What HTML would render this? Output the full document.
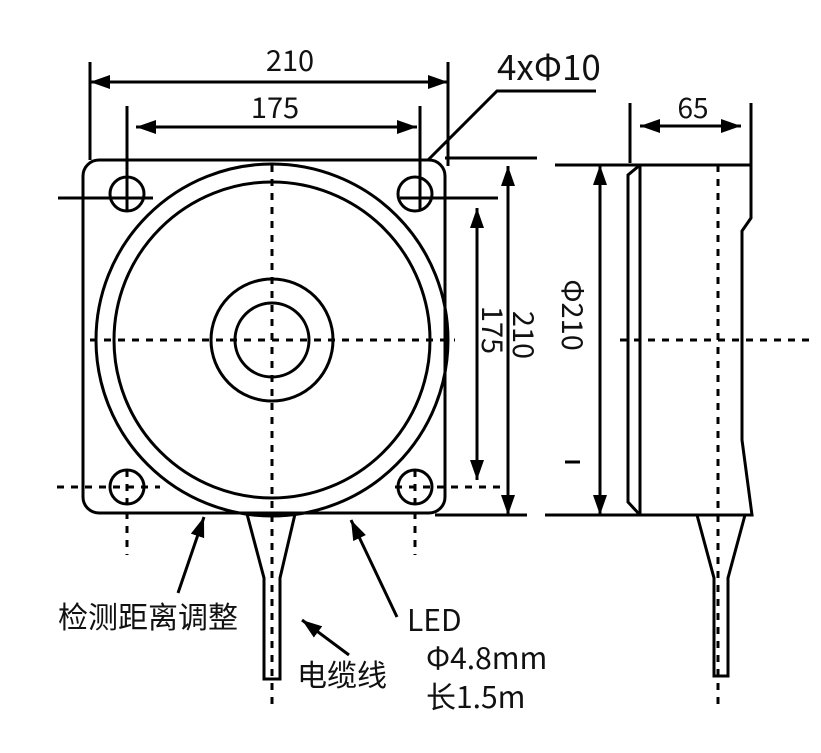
<!DOCTYPE html>
<html><head><meta charset="utf-8"><style>
html,body{margin:0;padding:0;background:#fff;}
svg{display:block;}
text{font-family:"Noto Sans CJK SC","Liberation Sans",sans-serif;fill:#111;}
</style></head><body>
<svg width="821" height="753" viewBox="0 0 821 753" xmlns="http://www.w3.org/2000/svg">
<defs>
<marker id="b" viewBox="0 0 10 10" refX="10" refY="5" markerWidth="20" markerHeight="14" orient="auto-start-reverse" markerUnits="userSpaceOnUse" preserveAspectRatio="none"><path d="M0,0 L10,5 L0,10 z" fill="#000"/></marker>
</defs>
<g stroke="#000" stroke-width="3" fill="none">
<rect x="83" y="160" width="362" height="353" rx="16"/>
<circle cx="272" cy="340" r="176"/>
<circle cx="272" cy="340" r="158"/>
<circle cx="272" cy="340" r="61"/>
<circle cx="272" cy="340" r="37"/>
<circle cx="127" cy="194" r="17"/>
<circle cx="415" cy="194" r="17"/>
<circle cx="127" cy="487" r="17"/>
<circle cx="415" cy="487" r="17"/>
<line x1="90" y1="62" x2="90" y2="160"/>
<line x1="448" y1="62" x2="448" y2="166"/>
<line x1="90" y1="82" x2="448" y2="82" marker-start="url(#b)" marker-end="url(#b)"/>
<line x1="127" y1="106" x2="127" y2="212"/>
<line x1="420" y1="106" x2="420" y2="210"/>
<line x1="136" y1="127" x2="417" y2="127" marker-start="url(#b)" marker-end="url(#b)"/>
<line x1="58" y1="198" x2="153" y2="198"/>
<line x1="400" y1="198" x2="498" y2="198"/>
<polyline points="596,91 497,91 428,160"/>
<line x1="445" y1="158" x2="537" y2="158"/>
<line x1="435" y1="515" x2="527" y2="515"/>
<line x1="508" y1="166" x2="508" y2="515" marker-start="url(#b)" marker-end="url(#b)"/>
<line x1="477" y1="208" x2="477" y2="480" marker-start="url(#b)" marker-end="url(#b)"/>
<polyline points="247,514 264,578 264,679 280,679 280,578 295,514"/>
<line x1="178" y1="593" x2="204" y2="517" marker-end="url(#b)"/>
<line x1="397" y1="617" x2="351" y2="520" marker-end="url(#b)"/>
<line x1="349" y1="655" x2="302" y2="620" marker-end="url(#b)"/>
<line x1="630" y1="103" x2="630" y2="163"/>
<line x1="751" y1="103" x2="751" y2="165"/>
<line x1="640" y1="126" x2="741" y2="126" marker-start="url(#b)" marker-end="url(#b)"/>
<line x1="555" y1="165" x2="751" y2="165"/>
<line x1="545" y1="515" x2="640" y2="515"/>
<line x1="600" y1="165" x2="600" y2="515" marker-start="url(#b)" marker-end="url(#b)"/>
<polyline points="640,165 628,175 628,502 640,515"/>
<polyline points="640,165 640,515 752,515 742,440 742,231 751,218 751,165"/>
<polyline points="697,515 714,578 714,676 728,676 728,578 745,515"/>
<line x1="565" y1="462" x2="580" y2="462"/>
</g>
<g stroke="#000" stroke-width="3" fill="none" stroke-dasharray="7,7">
<line x1="272" y1="165" x2="272" y2="705"/>
<line x1="90" y1="340" x2="455" y2="340"/>
<line x1="57" y1="487" x2="160" y2="487"/>
<line x1="395" y1="487" x2="500" y2="487"/>
<line x1="127" y1="470" x2="127" y2="555"/>
<line x1="415" y1="470" x2="415" y2="555"/>
<line x1="620" y1="340" x2="810" y2="340"/>
<line x1="718" y1="165" x2="718" y2="705"/>
</g>
<text x="290" y="71" font-size="29" text-anchor="middle">210</text>
<text x="275" y="118" font-size="29" text-anchor="middle">175</text>
<text x="497" y="80" font-size="35">4xΦ10</text>
<text x="693" y="118" font-size="28" text-anchor="middle">65</text>
<text transform="translate(513,335) rotate(90)" font-size="29" text-anchor="middle">210</text>
<text transform="translate(482,330) rotate(90)" font-size="29" text-anchor="middle">175</text>
<text transform="translate(562,315) rotate(90)" font-size="29" text-anchor="middle">Φ210</text>
<text x="58" y="628" font-size="30">检测距离调整</text>
<text x="407" y="631" font-size="30">LED</text>
<text x="297" y="686" font-size="30">电缆线</text>
<text x="426" y="669" font-size="30">Φ4.8mm</text>
<text x="426" y="708" font-size="30">长1.5m</text>
</svg>
</body></html>
